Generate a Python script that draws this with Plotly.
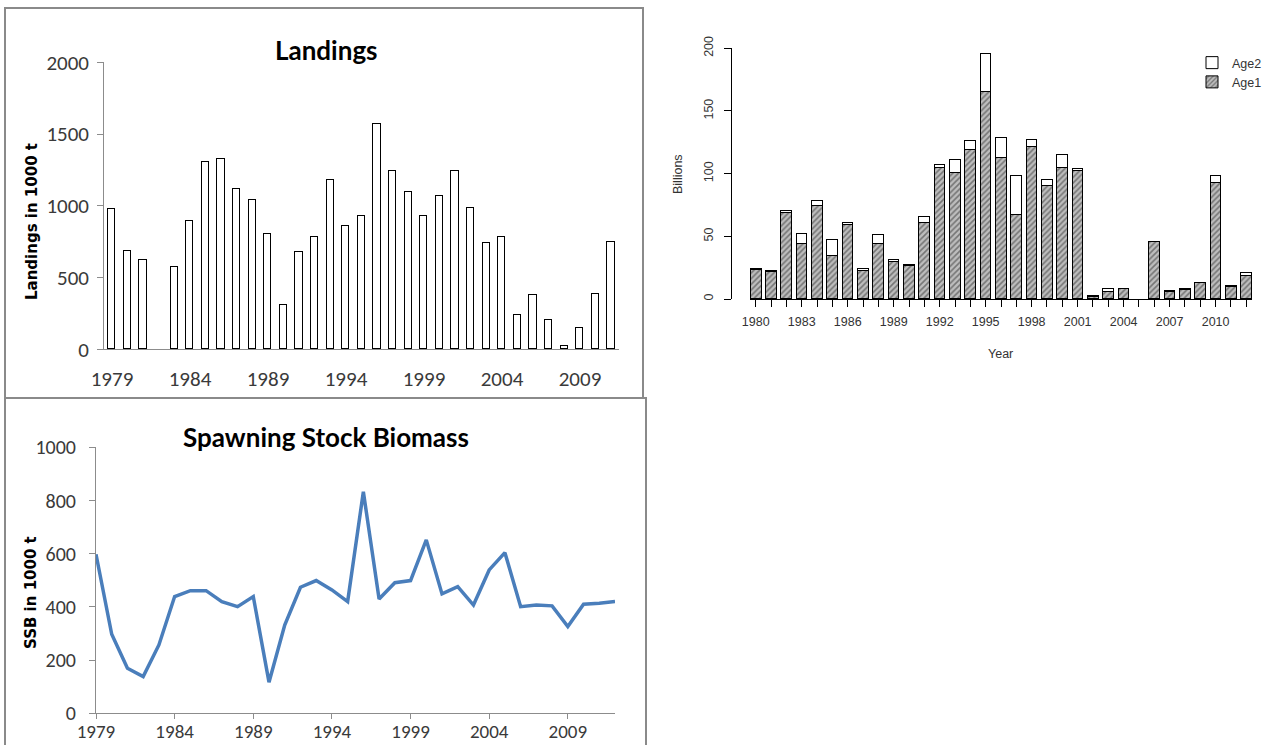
import plotly.graph_objects as go

# ---------------- data ----------------
land_years = list(range(1979, 2012))
landings = [975, 685, 622, None, 569, 892, 1305, 1326, 1113, 1036, 804, 309, 676, 783,
            1175, 859, 929, 1566, 1243, 1096, 929, 1066, 1243, 983, 736, 783, 239, 376,
            200, 18, 146, 386, 743]
land_ticks = [1979, 1984, 1989, 1994, 1999, 2004, 2009]

ssb_years = list(range(1979, 2013))
ssb = [598, 297, 169, 138, 257, 439, 461, 461, 420, 401, 439, 117, 332, 474, 499, 464,
       420, 833, 430, 491, 499, 652, 449, 476, 407, 539, 604, 401, 407, 404, 326, 410,
       414, 420]
ssb_ticks = [1979, 1984, 1989, 1994, 1999, 2004, 2009]

rec_years = list(range(1980, 2013))
age1 = [23, 21, 68, 44, 74, 34, 59, 22, 44, 29, 26, 60, 104, 100, 119, 165, 112, 67, 121,
        90, 104, 102, 1, 5, 8, None, 45, 5.3, 7.2, 12.5, 92, 9, 18.5]
age2 = [0.5, 1, 2, 8, 4, 12.5, 1, 2, 7, 2, 1, 5, 2.5, 10.5, 7, 30, 16, 31, 6, 4.5, 11, 1.6,
        0.8, 3, 0, None, 0, 0.5, 0.5, 0.3, 6, 0.8, 2]
rec_label_years = [1980, 1983, 1986, 1989, 1992, 1995, 1998, 2001, 2004, 2007, 2010]

# ---------------- geometry helpers ----------------
W, H = 1276, 745
def fx(px):
    return px / W
def fy(py):
    return 1 - py / H

NARROW = "Liberation Sans Narrow, Carlito, Lato, sans-serif"
TITLEF = "Lato, Carlito, Liberation Sans, sans-serif"
RF = "Liberation Sans, Arial, sans-serif"
AX = "#8c8c8c"

fig = go.Figure()

# Landings bars
fig.add_trace(go.Bar(
    x=land_years, y=landings, width=0.45,
    marker=dict(color="white", line=dict(color="black", width=1.6)),
    xaxis="x", yaxis="y", showlegend=False, hoverinfo="x+y"))

# SSB line
fig.add_trace(go.Scatter(
    x=ssb_years, y=ssb, mode="lines",
    line=dict(color="rgb(74,126,187)", width=3.5),
    xaxis="x2", yaxis="y2", showlegend=False))

# Recruitment stacked bars
fig.add_trace(go.Bar(
    x=rec_years, y=age1, width=0.7, name="Age1",
    marker=dict(color="#bdbdbd", line=dict(color="black", width=1),
                pattern=dict(shape="/", fgcolor="#2e2e2e", bgcolor="#bdbdbd",
                             size=4, solidity=0.4)),
    xaxis="x3", yaxis="y3"))
fig.add_trace(go.Bar(
    x=rec_years, y=age2, width=0.7, name="Age2",
    marker=dict(color="white", line=dict(color="black", width=1)),
    xaxis="x3", yaxis="y3"))

tick_font_L = dict(family=NARROW, size=21, color="#3a3a3a")
tick_font_S = dict(family=NARROW, size=20, color="#3a3a3a")
tick_font_Sx = dict(family=NARROW, size=19, color="#3a3a3a")
tick_font_R = dict(family=RF, size=12.5, color="#333")

common = dict(showgrid=False, zeroline=False, automargin=False)

def note(text, px, py, size, family, angle=0, color="black"):
    return dict(text=text, x=fx(px), y=fy(py), xref="paper", yref="paper",
                xanchor="center", yanchor="middle", showarrow=False, textangle=angle,
                font=dict(family=family, size=size, color=color))

layout = dict(
    width=W, height=H,
    margin=dict(l=0, r=0, t=0, b=0, pad=0, autoexpand=False),
    paper_bgcolor="white", plot_bgcolor="rgba(0,0,0,0)",
    barmode="stack",
    bargap=0,
    # Landings
    xaxis=dict(domain=[fx(104.2), fx(619)], range=[1978.5, 2011.5], anchor="y",
               showline=True, linecolor=AX, linewidth=1,
               tickvals=land_ticks, ticks="", tickfont=tick_font_L, ticklabelstandoff=10,
               **common),
    xaxis4=dict(domain=[fx(104.2), fx(619)], range=[1978.5, 2011.5], anchor="y",
                overlaying="x", showline=False,
                tickvals=[v - 0.5 for v in land_ticks], ticks="outside", ticklen=7,
                tickcolor=AX, showticklabels=False, **common),
    yaxis=dict(domain=[fy(349.3), fy(62.3)], range=[0, 2000], anchor="x",
               showline=True, linecolor=AX, linewidth=1,
               tickvals=[0, 500, 1000, 1500, 2000], ticks="outside", ticklen=6,
               tickcolor=AX, tickfont=tick_font_L, ticklabelstandoff=4, **common),
    # SSB
    xaxis2=dict(domain=[fx(96), fx(615)], range=[1979, 2012], anchor="y2",
                showline=True, linecolor=AX, linewidth=1,
                tickvals=ssb_ticks, ticks="outside", ticklen=5, tickcolor=AX,
                tickfont=tick_font_Sx, ticklabelstandoff=-4, **common),
    yaxis2=dict(domain=[fy(713.3), fy(447.3)], range=[0, 1000], anchor="x2",
                showline=True, linecolor=AX, linewidth=1,
                tickvals=[0, 200, 400, 600, 800, 1000], ticks="outside", ticklen=6,
                tickcolor=AX, tickfont=tick_font_S, ticklabelstandoff=9, **common),
    # Recruitment
    xaxis3=dict(domain=[fx(749.6), fx(1252.4)], range=[1979.6, 2012.4], anchor="y3",
                showline=True, linecolor="black", linewidth=1,
                tickvals=rec_years,
                ticktext=[str(y) if y in rec_label_years else "" for y in rec_years],
                ticks="outside", ticklen=7, tickcolor="black", tickfont=tick_font_R,
                ticklabelstandoff=4, **common),
    yaxis3=dict(domain=[fy(299), fy(48.3)], range=[0, 200], anchor="free",
                position=fx(731), showline=True, linecolor="black", linewidth=1,
                tickvals=[0, 50, 100, 150, 200],
                ticks="outside", ticklen=7, tickcolor="black", tickangle=-90,
                tickfont=tick_font_R, ticklabelstandoff=6, **common),
    legend=dict(x=fx(1192), y=fy(48), xanchor="left", yanchor="top",
                traceorder="reversed", font=dict(family=RF, size=12.5, color="#333"),
                bgcolor="rgba(0,0,0,0)", itemwidth=30, tracegroupgap=0),
    shapes=[
        dict(type="rect", xref="paper", yref="paper", x0=fx(5), x1=fx(643),
             y0=fy(398), y1=fy(8), line=dict(color="#8a8a8a", width=2)),
        dict(type="rect", xref="paper", yref="paper", x0=fx(5), x1=fx(646),
             y0=fy(760), y1=fy(398), line=dict(color="#8a8a8a", width=2)),
    ],
    annotations=[
        note("<b>Landings</b>", 326, 50, 26, TITLEF),
        note("<b>Spawning Stock Biomass</b>", 326, 437, 26, TITLEF),
        note("<b>Landings in 1000 t</b>", 32, 222, 15, "DejaVu Sans", angle=-90),
        note("<b>SSB in 1000 t</b>", 31, 592, 15, "DejaVu Sans", angle=-90),
        note("Billions", 678, 174, 12.5, RF, angle=-90, color="#333"),
        note("Year", 1000, 354, 12.5, RF, color="#333"),
    ],
)
fig.update_layout(**layout)
fig.write_html("out.html", config={"displayModeBar": False},
               post_script="document.body.style.margin='0px';document.body.style.overflow='hidden';")
